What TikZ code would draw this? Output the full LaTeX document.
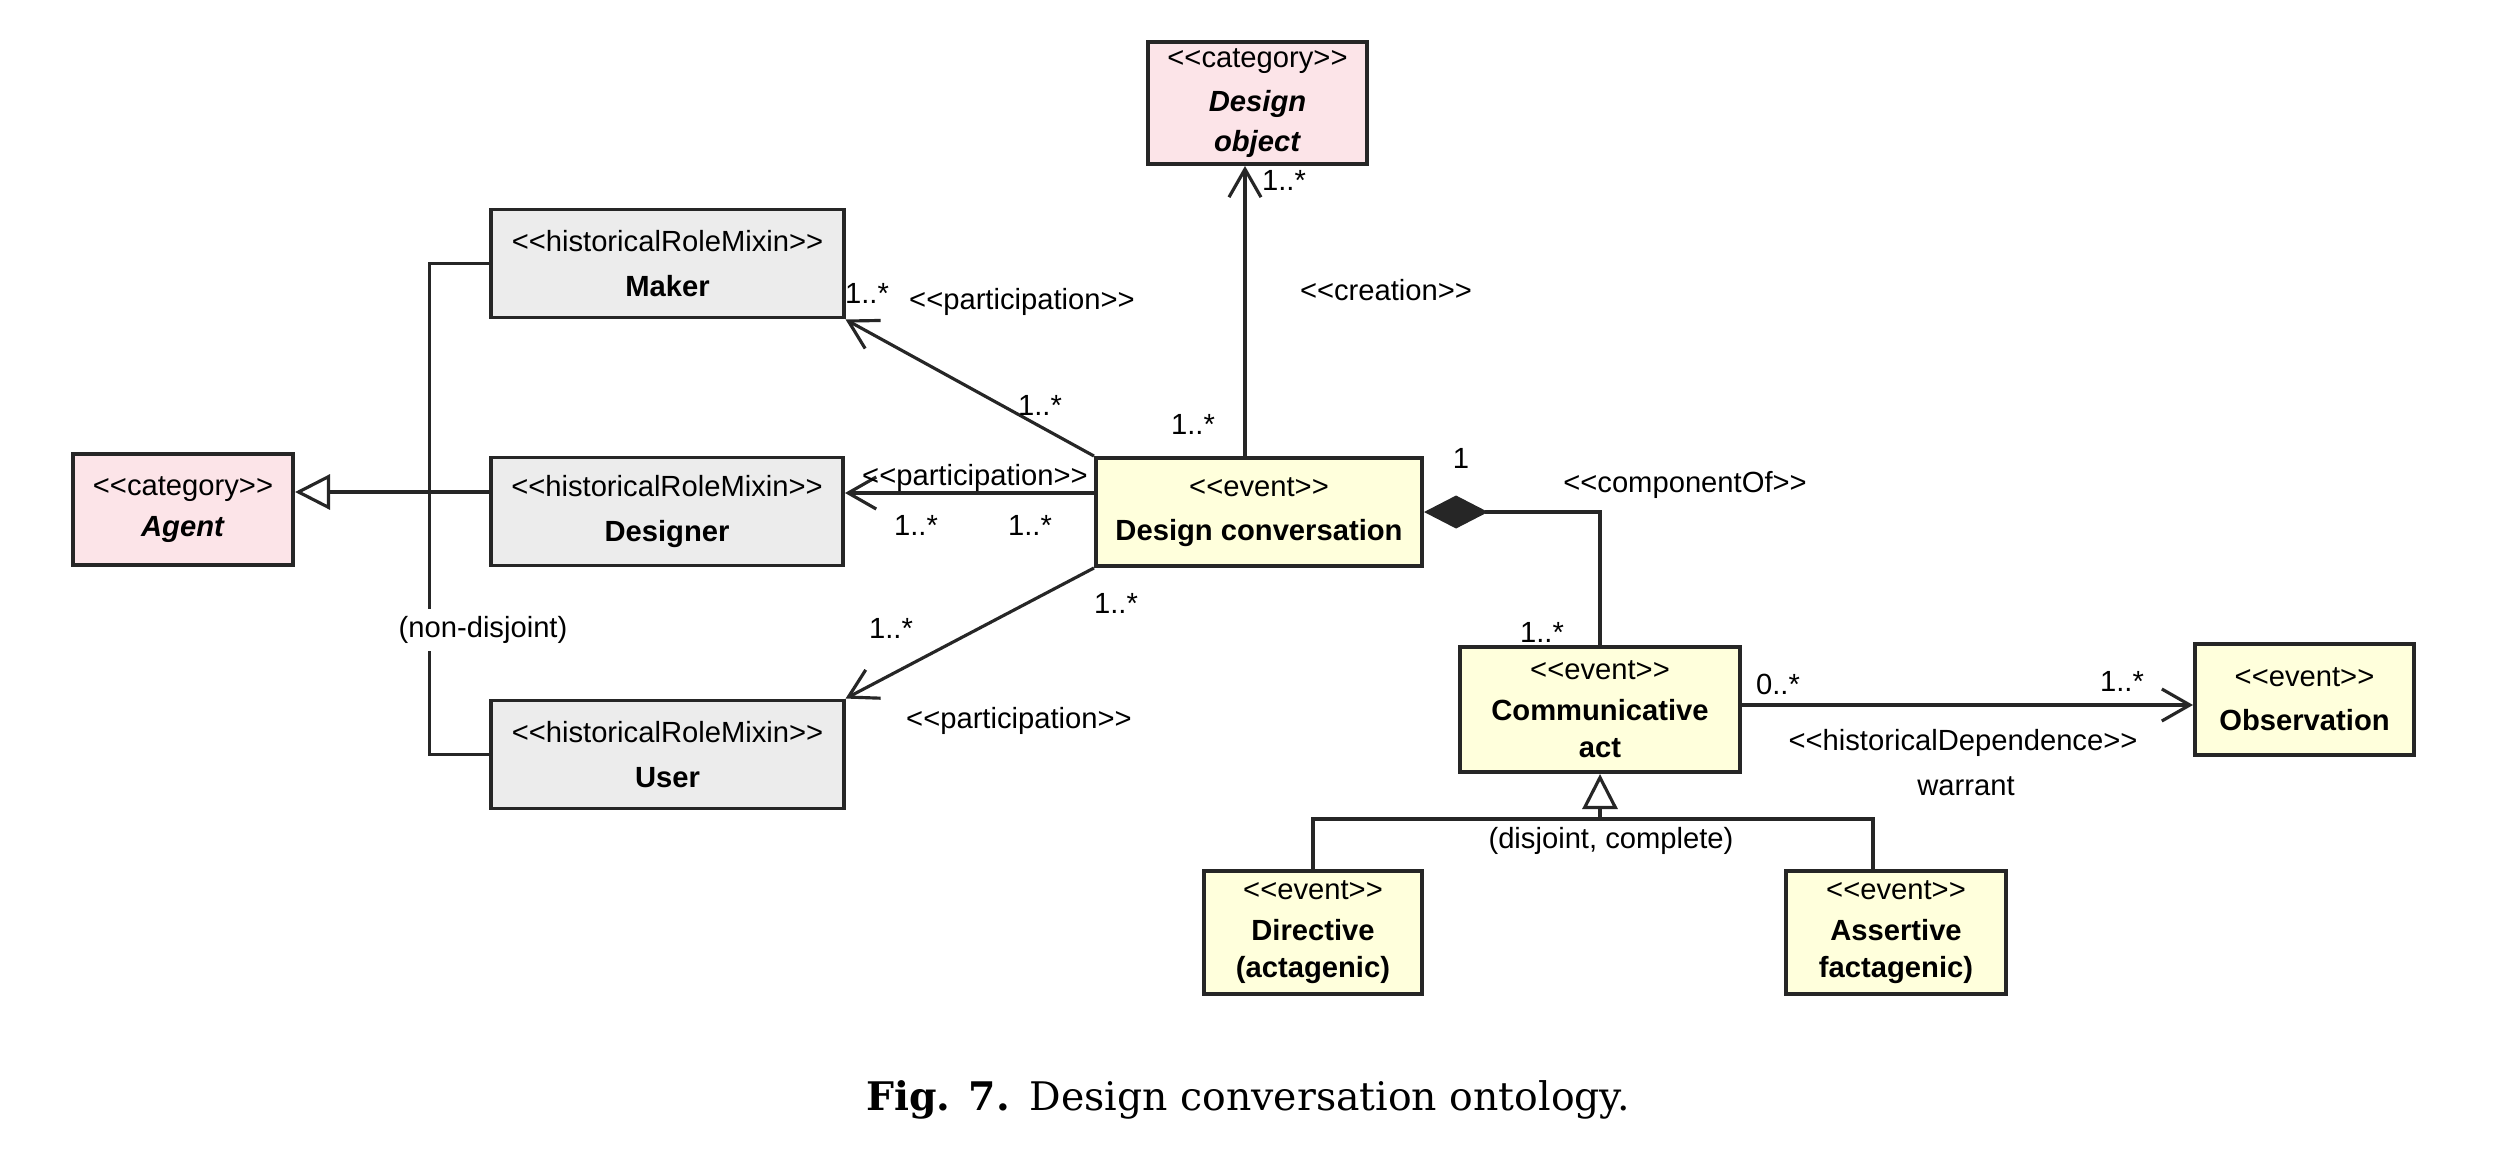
\documentclass[tikz,border=0pt]{standalone}
\usepackage{fontspec}
\newfontfamily\diag{Liberation Sans}
\newfontfamily\capf{DejaVu Serif}
\usetikzlibrary{arrows.meta}
\definecolor{catpink}{HTML}{FCE4E8}
\definecolor{rolegray}{HTML}{ECECEC}
\definecolor{evyellow}{HTML}{FFFFDC}
\newcommand\ster[1]{{<}{<}#1{>}{>}}
\begin{document}
\begin{tikzpicture}[x=0.01cm,y=-0.01cm,
 box/.style={draw=black!85, line width=1.1pt, inner sep=0pt, align=center,
   font=\diag\fontsize{8.3}{10.6}\selectfont},
 catbox/.style={box, fill=catpink},
 rolebox/.style={box, fill=rolegray, minimum width=3.52cm, minimum height=1.08cm},
 evbox/.style={box, fill=evyellow},
 lbl/.style={font=\diag\fontsize{8.3}{10}\selectfont, inner sep=1pt},
 conn/.style={draw=black!85, line width=0.9pt},
 openarr/.style={conn, -{Straight Barb[length=2.8mm,width=3.2mm]}},
 genarr/.style={conn, -{Triangle[open, length=3.5mm, width=3.5mm]}},
 comparr/.style={conn, {Diamond[length=6.4mm,width=3.3mm]}-},
]
\useasboundingbox (0,0) rectangle (2500,1172);

% boxes
\node[catbox, minimum width=2.19cm, minimum height=1.22cm,
  font=\diag\fontsize{8.3}{11.4}\selectfont] (do) at (1257.5,103)
  {\ster{category}\\[1pt]\textbf{\itshape Design}\\\textbf{\itshape object}};
\node[rolebox] (maker) at (667.5,263.5) {\ster{historicalRoleMixin}\\[2pt]\textbf{Maker}};
\node[catbox, minimum width=2.20cm, minimum height=1.11cm] (agent) at (183,509.5)
  {\ster{category}\\[1pt]\textbf{\itshape Agent}};
\node[rolebox] (des) at (667,511.5) {\ster{historicalRoleMixin}\\[2pt]\textbf{Designer}};
\node[rolebox] (user) at (667.5,754.5) {\ster{historicalRoleMixin}\\[2pt]\textbf{User}};
\node[evbox, minimum width=3.26cm, minimum height=1.08cm] (dc) at (1259,512)
  {\ster{event}\\[2pt]\textbf{Design conversation}};
\node[evbox, minimum width=2.80cm, minimum height=1.25cm] (ca) at (1600,709.5)
  {\ster{event}\\[1pt]\textbf{Communicative}\\\textbf{act}};
\node[evbox, minimum width=2.19cm, minimum height=1.11cm] (obs) at (2304.5,699.5)
  {\ster{event}\\[2pt]\textbf{Observation}};
\node[evbox, minimum width=2.18cm, minimum height=1.23cm] (dir) at (1313,932.5)
  {\ster{event}\\[1pt]\textbf{Directive}\\\textbf{(actagenic)}};
\node[evbox, minimum width=2.20cm, minimum height=1.23cm] (as) at (1896,932.5)
  {\ster{event}\\[1pt]\textbf{Assertive}\\\textbf{factagenic)}};

% non-disjoint bracket
\coordinate (nd) at ([xshift=-0.6cm]maker.west);
\draw[conn] (maker.west) -- (nd) |- (user.west);

% generalization to Agent
\coordinate (dgl) at ([yshift=0.195cm]des.west);
\draw[genarr] (dgl) -- (dgl -| agent.east);

% participation associations
\draw[openarr] (dc.north west) -- (maker.south east);
\coordinate (dcl) at ([yshift=0.19cm]dc.west);
\draw[openarr] (dcl) -- (dcl -| des.east);
\draw[openarr] (dc.south west) -- (user.north east);

% creation
\coordinate (dcn) at ([xshift=-0.14cm]dc.north);
\draw[openarr] (dcn) -- (dcn |- do.south);

% componentOf
\draw[comparr] (dc.east) -| (ca.north);

% historical dependence
\coordinate (cae) at ([yshift=0.045cm]ca.east);
\draw[openarr] (cae) -- (cae -| obs.west);

% generalization of communicative act
\coordinate (gj) at (1600,819);
\coordinate (asn) at ([xshift=-0.23cm]as.north);
\draw[conn] (dir.north) |- (gj) -| (asn);
\draw[genarr] (gj) -- (ca.south);

% labels
\node[lbl, fill=white, inner sep=2pt] (ndl) at (483,630) {(non-disjoint)};
\node[lbl] (m1) at (1284,180) {1..*};
\node[lbl] (cr) at (1386,290) {\ster{creation}};
\node[lbl] (m2) at (1193,424) {1..*};
\node[lbl] (m3) at (867,293) {1..*};
\node[lbl] (p1) at (1022,302) {\ster{participation}};
\node[lbl] (m4) at (1040,405) {1..*};
\node[lbl] (p2) at (975,478) {\ster{participation}};
\node[lbl] (m5) at (916,525) {1..*};
\node[lbl] (m6) at (1030,525) {1..*};
\node[lbl] (m7) at (891,628) {1..*};
\node[lbl] (m8) at (1116,603) {1..*};
\node[lbl] (p3) at (1019,721) {\ster{participation}};
\node[lbl] (m9) at (1461,458) {1};
\node[lbl] (co) at (1685,485) {\ster{componentOf}};
\node[lbl] (m10) at (1542,632) {1..*};
\node[lbl] (m11) at (1778,684) {0..*};
\node[lbl] (m12) at (2122,681) {1..*};
\node[lbl] (hd) at (1963,743) {\ster{historicalDependence}};
\node[lbl] (wr) at (1966,786) {warrant};
\node[lbl] (dj) at (1611,841) {(disjoint, complete)};

% caption
\node[font=\capf\fontsize{11.2}{13}\selectfont, inner sep=0pt] (cap) at (1248,1100)
  {\textbf{Fig. 7.}\hspace{0.5em}Design conversation ontology.};
\end{tikzpicture}
\end{document}
